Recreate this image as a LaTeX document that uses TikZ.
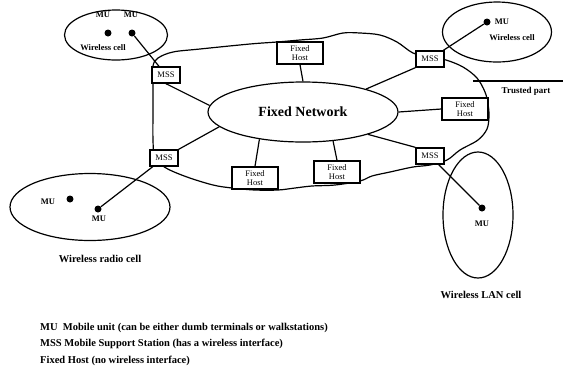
\documentclass[tikz,border=0pt]{standalone}
\usepackage{fontspec}
\setmainfont{Liberation Serif}
\usetikzlibrary{shapes.geometric}
\begin{document}
\begin{tikzpicture}[x=1pt,y=-1pt,
  ln/.style={line width=1.2pt},
  box/.style={draw,line width=1.4pt,fill=white,inner sep=0pt,align=center,font=\fontsize{8.5}{9}\selectfont},
  mssbox/.style={box,minimum width=28pt,minimum height=16pt},
  fhbox/.style={box,minimum width=46pt,minimum height=22pt},
  dot/.style={circle,fill,inner sep=0pt,minimum size=7pt},
  lbl/.style={font=\fontsize{8.5}{10}\selectfont\bfseries,inner sep=0pt},
  captext/.style={font=\fontsize{10.5}{12}\selectfont\bfseries,inner sep=0pt},
  legend/.style={font=\fontsize{10.5}{12}\selectfont\bfseries,inner sep=0pt,anchor=west},
  cell/.style={draw,ellipse,line width=1.2pt,inner sep=0pt},
]
\useasboundingbox (0,0) rectangle (563,368);

% wireless cells
\node[cell,minimum width=103pt,minimum height=50pt] (cellTL) at (116,35) {};
\node[cell,minimum width=109pt,minimum height=60pt] (cellTR) at (497,32) {};
\node[cell,minimum width=160pt,minimum height=67pt] (cellBL) at (90,207) {};
\node[cell,minimum width=70pt,minimum height=126pt] (cellBR) at (478,215) {};

% trusted region boundary
\draw[ln] plot[smooth cycle, tension=0.55] coordinates {
 (153,66) (158,58) (173,52) (200,49) (250,44) (277,42) (300,40) (323,38)
 (343,33) (360,33) (380,35) (397,42) (413,53) (430,57) (446,60) (463,67)
 (477,78) (485,92) (488,104) (489,116) (487,129) (478,140) (460,150)
 (447,160) (430,165) (413,167) (390,172) (372,176) (360,181) (335,185)
 (312,186) (295,188) (278,190) (255,190) (232,188) (213,185) (187,177)
 (166,168) (155,158) (153,140) (153,110) (153,85)};

% fixed network
\node[draw,ellipse,line width=1.2pt,fill=white,minimum width=190pt,minimum height=60pt,inner sep=0pt,
      font=\fontsize{14}{16}\selectfont\bfseries] (net) at (303,112) {Fixed Network};

% boxes
\node[mssbox] (mssTL) at (166,75) {MSS};
\node[mssbox] (mssTR) at (430,59) {MSS};
\node[mssbox] (mssBL) at (164,158) {MSS};
\node[mssbox] (mssBR) at (430,156) {MSS};
\node[fhbox] (fhT) at (300,53) {Fixed\\Host};
\node[fhbox] (fhR) at (465,109) {Fixed\\Host};
\node[fhbox] (fhBL) at (255,178) {Fixed\\Host};
\node[fhbox] (fhBM) at (337,172) {Fixed\\Host};

% wired links
\draw[ln] (mssTL.south) -- (net.176);
\draw[ln] (mssBL.north east) -- (net.190);
\draw[ln] (mssTR.south west) -- (net.20);
\draw[ln] (mssBR.north west) -- (net.341);
\draw[ln] (fhR.west) -- (net.east);
\draw[ln] (fhT.south) -- (net.north);
\draw[ln] (fhBL.north) -- (net.212);
\draw[ln] (fhBM.north) -- (net.316);

% mobile units
\node[dot] (dTL1) at (108,33) {};
\node[dot] (dTL2) at (132,33) {};
\node[dot] (dTR) at (487,22) {};
\node[dot] (dBL1) at (70,199) {};
\node[dot] (dBL2) at (98,209) {};
\node[dot] (dBR) at (482,208) {};

\draw[ln] (dTL2) -- (mssTL);
\draw[ln] (dTR) -- (mssTR);
\draw[ln] (dBL2) -- (mssBL);
\draw[ln] (dBR) -- (mssBR);

% labels
\node[lbl] (lTL1) at (103,15) {MU};
\node[lbl] (lTL2) at (131,15) {MU};
\node[lbl] (wTL) at (103,48) {Wireless cell};
\node[lbl] (lTR) at (502,22) {MU};
\node[lbl] (wTR) at (512,38) {Wireless cell};
\node[lbl] (lBL1) at (48,202) {MU};
\node[lbl] (lBL2) at (99,219) {MU};
\node[lbl] (lBR) at (482,224) {MU};

\coordinate (tp1) at (473,81);
\coordinate (tp2) at (563,81);
\draw[ln] (tp1) -- (tp2);
\node[lbl,font=\fontsize{9}{10}\selectfont\bfseries] (tpl) at (526,91) {Trusted part};

\node[captext] (capBL) at (100,259) {Wireless radio cell};
\node[captext] (capBR) at (481,295) {Wireless LAN cell};

\node[legend] (lg1) at (40,328) {MU\ \ Mobile unit (can be either dumb terminals or walkstations)};
\node[legend] (lg2) at (40,344) {MSS Mobile Support Station (has a wireless interface)};
\node[legend] (lg3) at (40,361) {Fixed Host (no wireless interface)};
\end{tikzpicture}
\end{document}
